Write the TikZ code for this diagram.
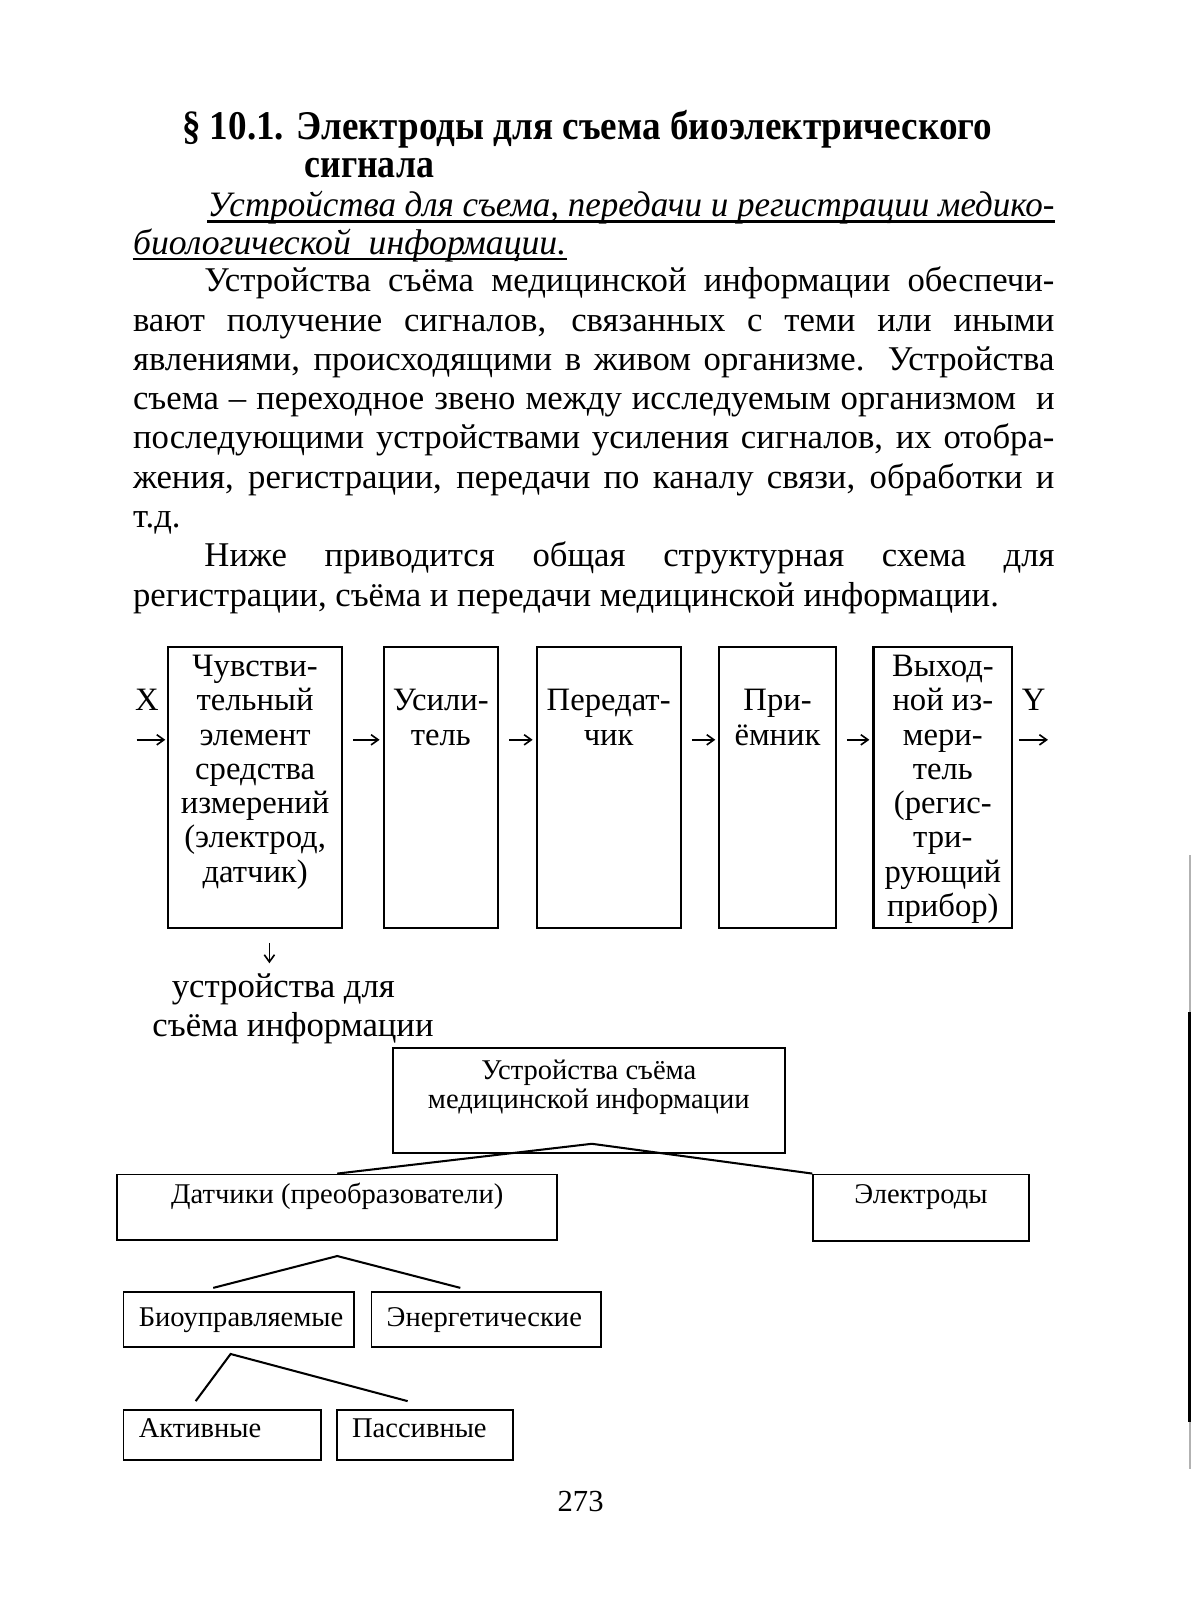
\documentclass[tikz,border=0pt]{standalone}
\usepackage{fontspec}
\usepackage{graphicx}
\setmainfont{Liberation Serif}
\usetikzlibrary{arrows.meta}
\newsavebox\linebox
% justified line: stretch the spaces, or squeeze if too long
\newcommand\jline[2]{\sbox\linebox{#2}\ifdim\wd\linebox>#1\relax\resizebox{#1}{\height}{\usebox\linebox}\else\makebox[#1][s]{#2}\fi}
\newcommand\fitline[2]{\resizebox{#1}{\height}{#2}}
\tikzset{>={Straight Barb[length=3.5pt,width=5pt]},
  txt/.style={inner sep=0pt,anchor=base west},
  body/.style={txt,font=\fontsize{17}{19}\selectfont},
  blk/.style={draw,line width=1pt,inner sep=0pt,anchor=base,text height=14.5pt,text depth=123pt,
    font=\fontsize{16}{16.8}\selectfont},
  arr/.style={->,line width=.8pt},
  tbox/.style={draw,line width=.9pt,inner xsep=7.5pt,inner ysep=0pt,anchor=base,
    font=\fontsize{14}{14}\selectfont},
  lbox/.style={tbox,align=left},
  link/.style={line width=1pt},
  uline/.style={line width=1.2pt}}

\begin{document}
\begin{tikzpicture}[x=.5pt,y=-.5pt]
\fill[white] (0,0) rectangle (1171,1568);
\useasboundingbox (0,0) rectangle (1171,1568);
% heading
\node[txt,font=\fontsize{20}{24}\selectfont\bfseries] (h1) at (178,137) {\fitline{397pt}{§ 10.1. Электроды для съема биоэлектрического}};
\node[txt,font=\fontsize{20}{24}\selectfont\bfseries] (h2) at (298,174) {\fitline{63.5pt}{сигнала}};
\node[txt,font=\fontsize{17.5}{19}\selectfont\itshape] (i1) at (203,212) {\jline{415pt}{Устройства для съема, передачи и регистрации медико-}};
\node[txt,font=\fontsize{17.5}{19}\selectfont\itshape] (i2) at (130,249) {биологической\ \ информации.};
\draw[uline] ([yshift=-2.5pt]i1.base west) -- ([yshift=-2.5pt]i1.base east);
\draw[uline] ([yshift=-2.5pt]i2.base west) -- ([yshift=-2.5pt]i2.base east);
% paragraph
\node[body] (p1) at (200,286) {\jline{416.5pt}{Устройства съёма медицинской информации обеспечи-}};
\node[body] (p2) at (130,324.5) {\jline{451.5pt}{вают получение сигналов, связанных с теми или иными}};
\node[body] (p3) at (130,363) {\jline{451.5pt}{явлениями, происходящими в живом организме. Устройства}};
\node[body] (p4) at (130,401.5) {\jline{451.5pt}{съема – переходное звено между исследуемым организмом\ \ и}};
\node[body] (p5) at (130,440) {\jline{451.5pt}{последующими устройствами усиления сигналов, их отобра-}};
\node[body] (p6) at (130,478.5) {\jline{451.5pt}{жения, регистрации, передачи по каналу связи, обработки и}};
\node[body] (p7) at (130,517) {т.д.};
\node[body] (p8) at (200,555.5) {\jline{416.5pt}{Ниже приводится общая структурная схема для}};
\node[body] (p9) at (130,594) {регистрации, съёма и передачи медицинской информации.};
% structure scheme
\node[blk,minimum width=85pt] (sens) at (250,663) {\begin{tabular}[t]{@{}c@{}}Чувстви-\\тельный\\элемент\\средства\\измерений\\(электрод,\\датчик)\end{tabular}};
\node[blk,minimum width=56pt] (amp) at (432,663) {\begin{tabular}[t]{@{}c@{}}\\Усили-\\тель\end{tabular}};
\node[blk,minimum width=70.5pt] (tx) at (596.5,663) {\begin{tabular}[t]{@{}c@{}}\\Передат-\\чик\end{tabular}};
\node[blk,minimum width=57pt] (rx) at (762,663) {\begin{tabular}[t]{@{}c@{}}\\При-\\ёмник\end{tabular}};
\node[blk,minimum width=68pt] (meter) at (924,663) {\begin{tabular}[t]{@{}c@{}}Выход-\\ной из-\\мери-\\тель\\(регис-\\три-\\рующий\\прибор)\end{tabular}};
\node[txt,anchor=base,font=\fontsize{16}{16.8}\selectfont] (xlab) at (144,696.5) {X};
\node[txt,anchor=base,font=\fontsize{16}{16.8}\selectfont] (ylab) at (1013,696.5) {Y};
\coordinate (xin) at ([xshift=-15pt,yshift=23.25pt]sens.west);
\coordinate (yout) at ([xshift=17pt,yshift=23.25pt]meter.east);
\coordinate (dn) at ([xshift=7pt,yshift=-17pt]sens.south);
\draw[arr] (xin) -- ([xshift=-1pt,yshift=23.25pt]sens.west);
\foreach \a/\b in {sens/amp,amp/tx,tx/rx,rx/meter}
  \draw[arr] ([xshift=5pt,yshift=23.25pt]\a.east) -- ([xshift=-1.5pt,yshift=23.25pt]\b.west);
\draw[arr] ([xshift=3pt,yshift=23.25pt]meter.east) -- (yout);
\draw[arr] ([xshift=7pt,yshift=-7pt]sens.south) -- (dn);
\node[body] (lab1) at (168,978) {устройства для};
\node[body] (lab2) at (149,1016) {съёма информации};
% classification tree
\node[tbox,minimum width=192pt,text height=15.5pt,text depth=36pt] (top) at (577,1058) {\begin{tabular}[t]{@{}c@{}}Устройства съёма\\медицинской информации\end{tabular}};
\node[tbox,minimum width=215.5pt,text height=14pt,text depth=18pt] (dat) at (330.5,1179) {Датчики (преобразователи)};
\node[tbox,minimum width=105.5pt,text height=14pt,text depth=18.5pt] (el) at (902.5,1179) {Электроды};
\node[lbox,text width=98pt,text height=16.8pt,text depth=10.2pt] (bio) at (234,1299.6) {Биоуправляемые};
\node[lbox,text width=97.5pt,text height=16.8pt,text depth=10.2pt] (en) at (476.5,1299.6) {Энергетические};
\node[lbox,text width=81.75pt,text height=13.5pt,text depth=10.85pt] (act) at (217.75,1409) {Активные};
\node[lbox,text width=71.5pt,text height=13.5pt,text depth=10.85pt] (pas) at (416.5,1409) {Пассивные};
\coordinate (topapex) at ([xshift=1.5pt,yshift=5pt]top.south);
\coordinate (datapex) at ([yshift=-7.5pt]dat.south);
\coordinate (bioapex) at ([xshift=-4pt,yshift=-3pt]bio.south);
\coordinate (biotop) at ([xshift=-12.5pt,yshift=1.5pt]bio.north);
\coordinate (entop) at ([xshift=44pt,yshift=1.5pt]en.north west);
\coordinate (acttop) at ([xshift=-13pt,yshift=4pt]act.north);
\coordinate (pastop) at ([xshift=-8.5pt,yshift=4pt]pas.north);
\draw[link] (dat.north) -- (topapex) -- (el.north west);
\draw[link] (biotop) -- (datapex) -- (entop);
\draw[link] (acttop) -- (bioapex) -- (pastop);
\node[txt,anchor=base,font=\fontsize{15}{18}\selectfont] (pnum) at (569,1481) {273};
% scan edge
\draw[gray!60,line width=1pt] (1166,838) -- (1166,1440);
\draw[line width=1.3pt] (1166,992) -- (1166,1394);
\end{tikzpicture}
\end{document}
